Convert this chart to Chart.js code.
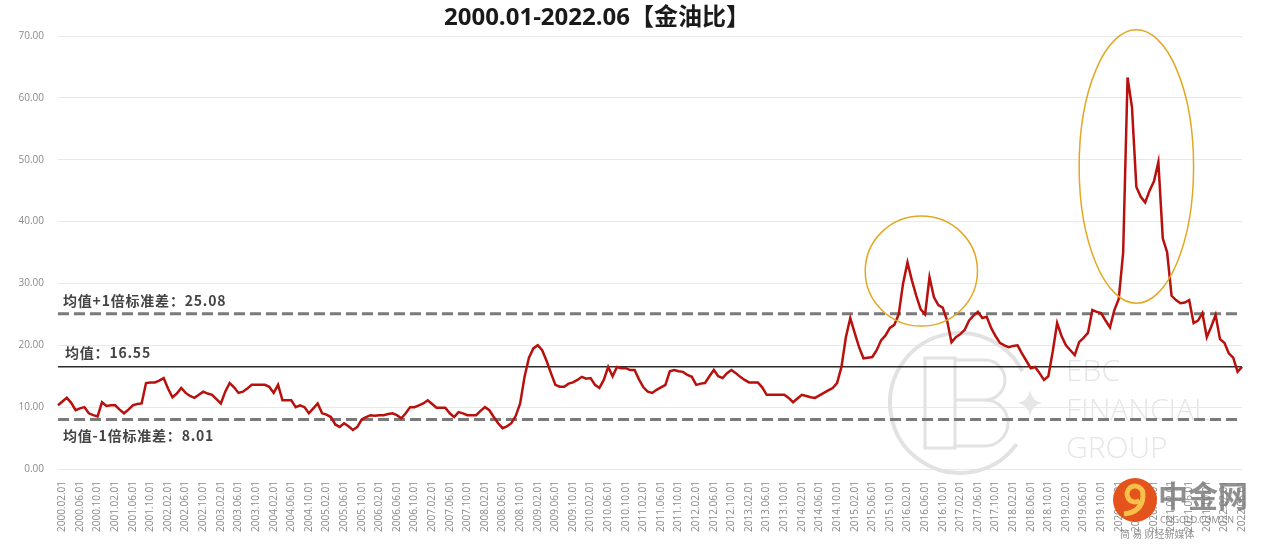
<!DOCTYPE html>
<html>
<head>
<meta charset="utf-8">
<script src="https://cdn.jsdelivr.net/npm/chart.js@4.4.1/dist/chart.umd.min.js"></script>
<style>
  html, body { margin: 0; padding: 0; background: #fff; }
  #wrap { width: 1269px; height: 551px; position: relative; }
</style>
</head>
<body>
<div id="wrap"><canvas id="myChart"></canvas></div>
<script>
// 金油比 monthly, 2000.01 - 2022.06
var ratio2000_2004 = [
  10.3, 10.9, 11.5, 10.7, 9.5, 9.8, 10.0, 9.0, 8.7, 8.5, 10.8, 10.2,
  10.3, 10.3, 9.6, 9.0, 9.6, 10.3, 10.5, 10.6, 13.9, 14.0, 14.0, 14.3,
  14.7, 13.0, 11.6, 12.2, 13.1, 12.3, 11.8, 11.5, 12.0, 12.5, 12.2, 12.0,
  11.3, 10.6, 12.5, 13.9, 13.2, 12.3, 12.5, 13.0, 13.6, 13.6, 13.6, 13.6,
  13.3, 12.3, 13.6, 11.1, 11.1, 11.1, 10.0, 10.3, 10.0, 9.0, 9.8, 10.6
];
var ratio2005_2009 = [
  9.0, 8.8, 8.4, 7.2, 6.8, 7.4, 6.9, 6.3, 6.8, 8.0, 8.4, 8.7,
  8.6, 8.7, 8.7, 8.9, 9.0, 8.7, 8.2, 9.0, 10.0, 10.0, 10.3, 10.6,
  11.1, 10.5, 9.9, 9.9, 9.9, 9.0, 8.4, 9.2, 9.0, 8.7, 8.7, 8.7,
  9.4, 10.0, 9.5, 8.4, 7.4, 6.6, 6.9, 7.4, 8.6, 10.6, 14.9, 18.0,
  19.5, 20.0, 19.2, 17.5, 15.5, 13.6, 13.3, 13.3, 13.8, 14.0, 14.4, 14.9
];
var ratio2010_2014 = [
  14.6, 14.7, 13.6, 13.1, 14.4, 16.5, 15.0, 16.5, 16.3, 16.3, 16.0, 16.0,
  14.5, 13.2, 12.5, 12.3, 12.8, 13.2, 13.6, 15.8, 16.0, 15.8, 15.7, 15.2,
  14.9, 13.6, 13.8, 13.9, 15.0, 16.0, 15.0, 14.7, 15.5, 16.0, 15.5, 14.9,
  14.4, 14.0, 14.0, 14.0, 13.2, 12.0, 12.0, 12.0, 12.0, 12.0, 11.5, 10.8,
  11.4, 12.0, 11.8, 11.6, 11.5, 11.9, 12.3, 12.7, 13.1, 13.9, 16.5, 21.3
];
var ratio2015_2019 = [
  24.4, 22.0, 19.7, 17.9, 18.0, 18.1, 19.2, 20.8, 21.6, 22.8, 23.3, 25.0,
  30.0, 33.4, 30.5, 28.0, 25.8, 25.0, 31.0, 27.8, 26.5, 26.1, 24.0, 20.5,
  21.3, 21.8, 22.5, 24.0, 24.8, 25.4, 24.4, 24.6, 22.8, 21.5, 20.4, 20.0,
  19.7, 19.9, 20.0, 18.7, 17.5, 16.3, 16.5, 15.5, 14.4, 15.0, 19.0, 23.6,
  21.5, 20.0, 19.2, 18.4, 20.5, 21.2, 22.0, 25.7, 25.4, 25.2, 24.0, 22.9
];
var ratio2020_2022 = [
  25.7, 27.5, 35.0, 63.3, 58.5, 45.6, 44.0, 43.1, 45.0, 46.5, 49.6, 37.3,
  35.0, 28.0, 27.3, 26.8, 26.9, 27.3, 23.6, 24.0, 25.2, 21.3, 23.0, 24.9,
  21.0, 20.4, 18.7, 18.0, 15.7, 16.5
];
var goldOil = [].concat(ratio2000_2004, ratio2005_2009, ratio2010_2014, ratio2015_2019, ratio2020_2022);

// 均值 / ±1倍标准差
var MEAN = 16.55;
var UPPER = 25.08;
var LOWER = 8.01;

var yTicks = [0, 10, 20, 30, 40, 50, 60, 70];

// category labels 2000.01.01 ... 2022.06.01
var months = [];
for (var y = 2000; y <= 2022; y++) {
  for (var m = 1; m <= 12; m++) {
    if (y === 2022 && m > 6) break;
    months.push(y + '.' + (m < 10 ? '0' : '') + m + '.01');
  }
}
var first = months[0], last = months[months.length - 1];

// orange rings, in data units (index range, value range)
var rings = [
  { from: 183.4, to: 208.9, low: 23.1, high: 40.9 },
  { from: 232.0, to: 258.0, low: 26.8, high: 71.0 }
];

function flat(v) {
  return [{ x: first, y: v }, { x: last, y: v }];
}

var extras = {
  id: 'extras',
  beforeDatasetsDraw: function(chart) {
    var c = chart.ctx;
    // EBC watermark
    c.save();
    c.strokeStyle = '#e2e2e2';
    c.lineWidth = 4;
    c.beginPath();
    c.arc(960, 403, 70, 0.2 * Math.PI, 1.85 * Math.PI);
    c.stroke();
    c.lineWidth = 3;
    c.strokeRect(925, 358, 30, 90);
    c.beginPath();
    c.moveTo(955, 360); c.lineTo(985, 360); c.arc(985, 380, 20, -Math.PI / 2, Math.PI / 2);
    c.lineTo(955, 400); c.moveTo(985, 400); c.arc(985, 423, 23, -Math.PI / 2, Math.PI / 2);
    c.lineTo(955, 446);
    c.stroke();
    c.fillStyle = '#e6e6e6';
    c.font = '300 30px "Open Sans"';
    c.textBaseline = 'alphabetic';
    c.fillText('EBC', 1066, 381);
    c.fillText('FINANCIAL', 1066, 420);
    c.fillText('GROUP', 1066, 458);
    c.beginPath();
    c.moveTo(1030, 390); c.quadraticCurveTo(1032, 401, 1042, 403);
    c.quadraticCurveTo(1032, 405, 1030, 416); c.quadraticCurveTo(1028, 405, 1018, 403);
    c.quadraticCurveTo(1028, 401, 1030, 390);
    c.fill();
    c.restore();
  },
  afterDatasetsDraw: function(chart) {
    var c = chart.ctx, xs = chart.scales.x, ys = chart.scales.y;
    var area = chart.chartArea;
    c.save();
    // rings
    c.strokeStyle = '#e3a823';
    c.lineWidth = 1.5;
    rings.forEach(function(r) {
      var x0 = xs.getPixelForValue(r.from), x1 = xs.getPixelForValue(r.to);
      var y0 = ys.getPixelForValue(r.high), y1 = ys.getPixelForValue(r.low);
      c.beginPath();
      c.ellipse((x0 + x1) / 2, (y0 + y1) / 2, (x1 - x0) / 2, (y1 - y0) / 2, 0, 0, 2 * Math.PI);
      c.stroke();
    });
    // line notes
    c.fillStyle = '#444';
    c.font = 'bold 14px "Noto Sans CJK SC"';
    c.letterSpacing = '0.8px';
    c.textBaseline = 'middle';
    c.fillText('均值+1倍标准差：' + UPPER.toFixed(2), area.left + 5, ys.getPixelForValue(UPPER) - 13);
    c.fillText('均值：' + MEAN.toFixed(2), area.left + 7, ys.getPixelForValue(MEAN) - 14);
    c.fillText('均值-1倍标准差：' + LOWER.toFixed(2), area.left + 5, ys.getPixelForValue(LOWER) + 16);
    c.restore();
  },
  afterDraw: function(chart) {
    var c = chart.ctx;
    c.save();
    // title
    c.fillStyle = '#1a1a1a';
    c.font = 'bold 24px "Open Sans", "Noto Sans CJK SC"';
    c.textAlign = 'center';
    c.textBaseline = 'middle';
    c.fillText('2000.01-2022.06【金油比】', 597, 18);
    // 中金网 mark
    c.textAlign = 'left';
    c.fillStyle = '#e4531b';
    c.beginPath();
    c.arc(1135, 500, 22, 0, 2 * Math.PI);
    c.fill();
    c.strokeStyle = '#f6c04a';
    c.lineWidth = 5;
    c.beginPath();
    c.arc(1135, 494, 8, 0.3 * Math.PI, 2.1 * Math.PI);
    c.moveTo(1143, 496);
    c.quadraticCurveTo(1142, 512, 1124, 514);
    c.stroke();
    c.fillStyle = 'rgba(125,125,125,0.85)';
    c.font = 'bold 30px "Noto Sans CJK SC"';
    c.fillText('中金网', 1158, 496);
    c.font = '9px "Noto Sans"';
    c.fillText('CNGOLD.COM.CN', 1160, 520);
    c.font = '10px "Noto Sans CJK SC"';
    c.fillText('简 易 财经新媒体', 1120, 534);
    c.restore();
  }
};

var ctx = document.getElementById('myChart').getContext('2d');
var chart = new Chart(ctx, {
  type: 'line',
  data: {
    labels: months,
    datasets: [
      {
        label: '金油比',
        data: goldOil,
        borderColor: '#b8100d',
        borderWidth: 2.5,
        pointRadius: 0,
        tension: 0,
        order: 0
      },
      {
        label: '均值',
        data: flat(MEAN),
        borderColor: '#2b2b2b',
        borderWidth: 1.5,
        pointRadius: 0,
        order: 1
      },
      {
        label: '均值+1倍标准差',
        data: flat(UPPER),
        borderColor: '#7a7a7a',
        borderWidth: 3,
        borderDash: [11, 5],
        pointRadius: 0,
        order: 1
      },
      {
        label: '均值-1倍标准差',
        data: flat(LOWER),
        borderColor: '#7a7a7a',
        borderWidth: 3,
        borderDash: [11, 5],
        pointRadius: 0,
        order: 1
      }
    ]
  },
  options: {
    responsive: true,
    maintainAspectRatio: false,
    animation: false,
    layout: { padding: { top: 36, right: 27, left: 0, bottom: 0 } },
    plugins: {
      legend: { display: false },
      tooltip: { enabled: false }
    },
    scales: {
      x: {
        offset: false,
        grid: { display: false },
        border: { display: false },
        ticks: {
          autoSkip: false,
          maxRotation: 90,
          minRotation: 90,
          color: '#8a8a8a',
          font: { size: 10, family: 'Open Sans' },
          padding: 4,
          callback: function(v, i) { return i % 4 === 1 ? months[i] : null; }
        },
        afterFit: function(s) { s.height = 82; }
      },
      y: {
        min: 0,
        max: 70,
        afterBuildTicks: function(s) { s.ticks = yTicks.map(function(v) { return { value: v }; }); },
        grid: { color: '#e8e8e8', lineWidth: 1, drawTicks: false },
        border: { display: false },
        ticks: {
          color: '#8a8a8a',
          font: { size: 10, family: 'Open Sans' },
          padding: 14,
          callback: function(v) { return v.toFixed(2); }
        },
        afterFit: function(s) { s.width = 58; }
      }
    }
  },
  plugins: [extras]
});
</script>
</body>
</html>
